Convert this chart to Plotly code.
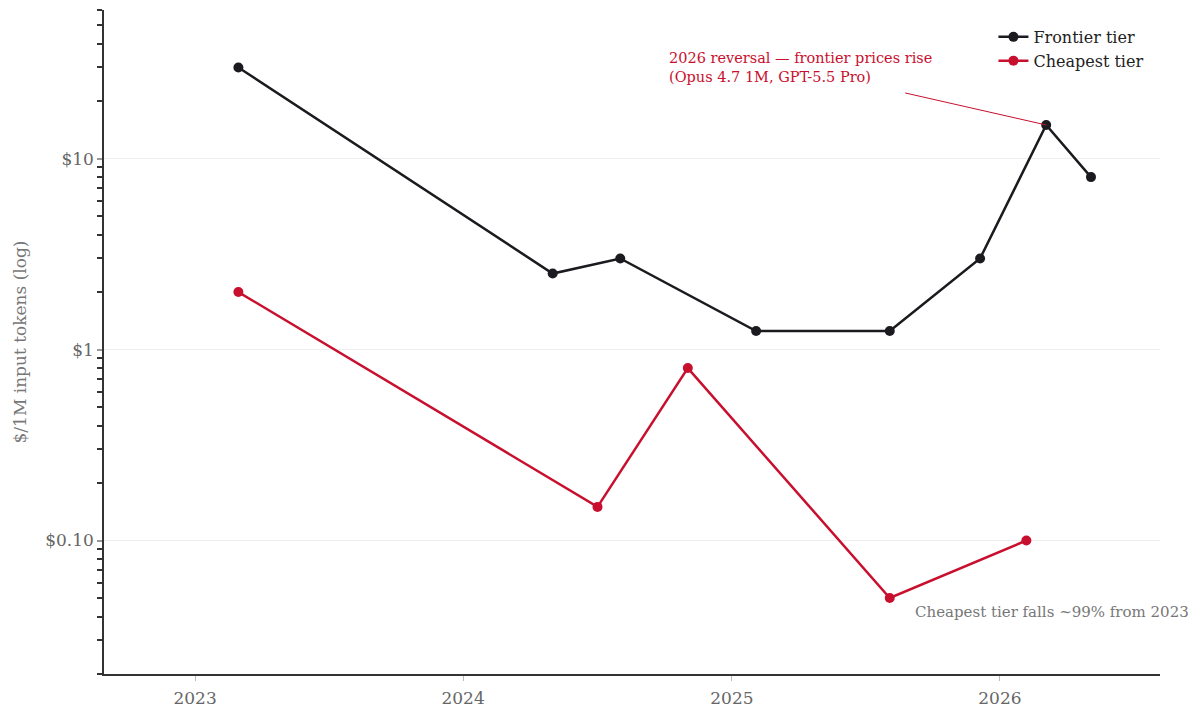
import plotly.graph_objects as go
import math

frontier_dates = ["2023-03-01", "2024-05-02", "2024-08-02", "2025-02-03", "2025-08-04",
                  "2025-12-05", "2026-03-05", "2026-05-05"]
frontier_prices = [30, 2.5, 3, 1.25, 1.25, 3, 15, 8]

cheap_dates = ["2023-03-01", "2024-07-02", "2024-11-02", "2025-08-04", "2026-02-06"]
cheap_prices = [2, 0.15, 0.8, 0.05, 0.10]

y_tickvals = [0.1, 1, 10]
y_ticktext = ["$0.10", "$1", "$10"]
y_minor = [m * d for d in (0.01, 0.1, 1, 10) for m in range(2, 10)]
x_tickvals = ["2023-01-01", "2024-01-01", "2025-01-01", "2026-01-01"]
x_ticktext = ["2023", "2024", "2025", "2026"]

DARK = "#1b1b1f"
RED = "#c8102e"
FONT = "DejaVu Serif"

fig = go.Figure()
fig.add_trace(go.Scatter(x=frontier_dates, y=frontier_prices, mode="lines+markers",
                         name="Frontier tier", line=dict(color=DARK, width=2.5),
                         marker=dict(color=DARK, size=10)))
fig.add_trace(go.Scatter(x=cheap_dates, y=cheap_prices, mode="lines+markers",
                         name="Cheapest tier", line=dict(color=RED, width=2.5),
                         marker=dict(color=RED, size=10)))

fig.add_annotation(x=frontier_dates[6], y=math.log10(frontier_prices[6]),
                   ax="2025-08-23", ay=1.3455, axref="x", ayref="y",
                   showarrow=True, arrowhead=0, arrowwidth=1, arrowcolor=RED,
                   text="", standoff=0)
fig.add_annotation(xref="paper", yref="paper", x=(667 - 104) / 1056, y=(674 - 48) / 664,
                   xanchor="left", yanchor="top", align="left", showarrow=False,
                   text="2026 reversal — frontier prices rise<br>(Opus 4.7 1M, GPT-5.5 Pro)",
                   font=dict(family=FONT, size=14.5, color=RED))
fig.add_annotation(xref="paper", yref="paper", x=(913 - 104) / 1056, y=(674 - 601) / 664,
                   xanchor="left", yanchor="top", align="left", showarrow=False,
                   text="Cheapest tier falls ~99% from 2023",
                   font=dict(family=FONT, size=15, color="#777777"))

fig.update_layout(
    width=1194, height=711,
    margin=dict(l=104, r=34, t=10, b=37),
    paper_bgcolor="white", plot_bgcolor="white",
    font=dict(family=FONT, size=15, color="#666666"),
    showlegend=True,
    legend=dict(x=0.99, y=0.985, xanchor="right", yanchor="top",
                font=dict(family=FONT, size=16, color="#222222"),
                bgcolor="rgba(0,0,0,0)"),
    xaxis=dict(range=["2022-08-30", "2026-08-07"], tickvals=x_tickvals, ticktext=x_ticktext,
               automargin=False,
               showgrid=False, zeroline=False, showline=True, linecolor="#333333", linewidth=1.5,
               ticks="outside", ticklen=5, tickcolor="#bbbbbb", ticklabelstandoff=3,
               tickfont=dict(family=FONT, size=17, color="#666666")),
    yaxis=dict(type="log", range=[math.log10(0.02), math.log10(60)],
               tickvals=y_tickvals, ticktext=y_ticktext, automargin=False,
               showgrid=True, gridcolor="#eeeeee", gridwidth=1, zeroline=False,
               showline=True, linecolor="#333333", linewidth=1.5,
               ticks="outside", ticklen=5, tickwidth=1.5, tickcolor="#999999",
               minor=dict(tickvals=y_minor, ticks="outside", ticklen=5, tickwidth=1.5,
                          tickcolor="#333333", showgrid=False),
               tickfont=dict(family=FONT, size=17, color="#666666"),
               title=dict(text="$/1M input tokens (log)", standoff=14,
                          font=dict(family=FONT, size=17, color="#777777"))),
)

fig.write_html("out.html")
